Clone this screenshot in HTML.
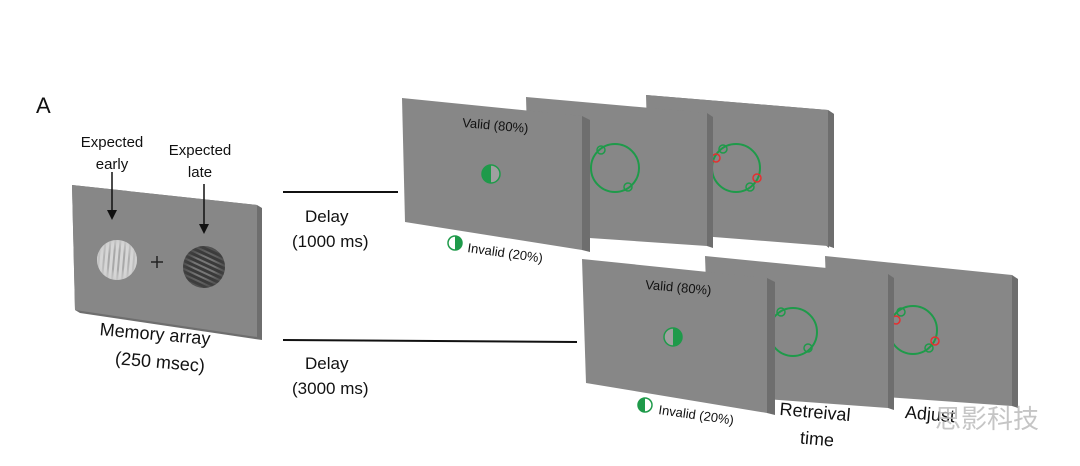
<!DOCTYPE html>
<html><head><meta charset="utf-8"><style>
body{margin:0;background:#fff;}
svg{display:block;}
text{font-family:"Liberation Sans","Noto Sans CJK SC",sans-serif;fill:#111;}
</style></head><body>
<svg width="1080" height="466" viewBox="0 0 1080 466" xmlns="http://www.w3.org/2000/svg">
<defs>
<pattern id="g1" width="5" height="40" patternUnits="userSpaceOnUse" patternTransform="rotate(5)">
<rect width="5" height="40" fill="#d6d6d6"/><rect width="2" height="40" fill="#a8a8a8"/></pattern>
<pattern id="g2" width="40" height="5" patternUnits="userSpaceOnUse" patternTransform="rotate(25)">
<rect width="40" height="5" fill="#3a3a3a"/><rect width="40" height="2" fill="#777"/></pattern>
<radialGradient id="f1"><stop offset="0.5" stop-color="#ddd" stop-opacity="0"/><stop offset="1" stop-color="#ccc" stop-opacity="0.8"/></radialGradient>
<radialGradient id="f2"><stop offset="0.5" stop-color="#333" stop-opacity="0"/><stop offset="1" stop-color="#444" stop-opacity="0.8"/></radialGradient>
</defs>
<text x="36" y="113" font-size="22">A</text>

<!-- memory array -->
<polygon points="72,185 257,205 262,208 262,340 80,313 75,310" fill="#6e6e6e"/>
<polygon points="72,185 257,205 257,337 75,310" fill="#878787"/>
<circle cx="117" cy="260" r="20" fill="url(#g1)"/><circle cx="117" cy="260" r="20" fill="url(#f1)"/>
<circle cx="204" cy="267" r="21" fill="url(#g2)"/><circle cx="204" cy="267" r="21" fill="url(#f2)"/>
<path d="M151 262h12M157 256v12" stroke="#222" stroke-width="1.5"/>
<text x="112" y="147" font-size="15" text-anchor="middle">Expected</text>
<text x="112" y="169" font-size="15" text-anchor="middle">early</text>
<text x="200" y="155" font-size="15" text-anchor="middle">Expected</text>
<text x="200" y="177" font-size="15" text-anchor="middle">late</text>
<path d="M112 172v40M204 184v42" stroke="#111" stroke-width="1.5"/>
<polygon points="107,210 117,210 112,220" fill="#111"/>
<polygon points="199,224 209,224 204,234" fill="#111"/>
<text x="155" y="340" font-size="18" text-anchor="middle" transform="rotate(5 155 335)">Memory array</text>
<text x="160" y="368" font-size="18" text-anchor="middle" transform="rotate(5 160 362)">(250 msec)</text>

<!-- lines -->
<line x1="283" y1="192" x2="398" y2="192" stroke="#111" stroke-width="2"/>
<line x1="283" y1="340" x2="577" y2="342" stroke="#111" stroke-width="2"/>
<text x="305" y="222" font-size="17">Delay</text>
<text x="292" y="247" font-size="17">(1000 ms)</text>
<text x="305" y="369" font-size="17">Delay</text>
<text x="292" y="394" font-size="17">(3000 ms)</text>

<!-- top row panels: back to front -->
<g>
<polygon points="646,95 828,110 834,114 834,248 829,246 829,248" fill="#6e6e6e"/>
<polygon points="828,110 834,114 834,248 828,246" fill="#6e6e6e"/>
<polygon points="646,95 828,110 828,246 650,232" fill="#878787"/>
<circle cx="736" cy="168" r="24" fill="none" stroke="#1f9a4a" stroke-width="2"/>
<circle cx="723" cy="149" r="4" fill="none" stroke="#1f9a4a" stroke-width="1.5"/>
<circle cx="750" cy="187" r="4" fill="none" stroke="#1f9a4a" stroke-width="1.5"/>
<circle cx="716" cy="158" r="4" fill="none" stroke="#e53030" stroke-width="1.5"/>
<circle cx="757" cy="178" r="4" fill="none" stroke="#e53030" stroke-width="1.5"/>
</g>
<g>
<polygon points="707,113 713,117 713,248 707,246" fill="#6e6e6e"/>
<polygon points="526,97 707,113 707,246 530,234" fill="#878787"/>
<circle cx="615" cy="168" r="24" fill="none" stroke="#1f9a4a" stroke-width="2"/>
<circle cx="601" cy="150" r="4" fill="none" stroke="#1f9a4a" stroke-width="1.5"/>
<circle cx="628" cy="187" r="4" fill="none" stroke="#1f9a4a" stroke-width="1.5"/>
</g>
<g>
<polygon points="582,116 590,120 590,252 582,250" fill="#6e6e6e"/>
<polygon points="402,98 582,116 582,250 405,222" fill="#878787"/>
<text x="462" y="127" font-size="13" transform="rotate(5 462 127)">Valid (80%)</text>
<circle cx="491" cy="174" r="9" fill="#a0a0a0" stroke="#1f9a4a" stroke-width="1.5"/>
<path d="M491 165a9 9 0 0 0 0 18z" fill="#1f9a4a"/>
</g>
<circle cx="455" cy="243" r="7" fill="#fff" stroke="#1f9a4a" stroke-width="1.5"/>
<path d="M455 236a7 7 0 0 1 0 14z" fill="#1f9a4a"/>
<text x="467" y="252" font-size="13" transform="rotate(8 467 252)">Invalid (20%)</text>

<!-- bottom row panels -->
<g>
<polygon points="1012,275 1018,279 1018,408 1012,406" fill="#6e6e6e"/>
<polygon points="825,256 1012,275 1012,406 830,393" fill="#878787"/>
<circle cx="913" cy="330" r="24" fill="none" stroke="#1f9a4a" stroke-width="2"/>
<circle cx="901" cy="312" r="4" fill="none" stroke="#1f9a4a" stroke-width="1.5"/>
<circle cx="929" cy="348" r="4" fill="none" stroke="#1f9a4a" stroke-width="1.5"/>
<circle cx="896" cy="320" r="4" fill="none" stroke="#e53030" stroke-width="1.5"/>
<circle cx="935" cy="341" r="4" fill="none" stroke="#e53030" stroke-width="1.5"/>
</g>
<g>
<polygon points="888,274 894,278 894,410 888,408" fill="#6e6e6e"/>
<polygon points="705,256 888,274 888,408 710,395" fill="#878787"/>
<circle cx="793" cy="332" r="24" fill="none" stroke="#1f9a4a" stroke-width="2"/>
<circle cx="781" cy="312" r="4" fill="none" stroke="#1f9a4a" stroke-width="1.5"/>
<circle cx="808" cy="348" r="4" fill="none" stroke="#1f9a4a" stroke-width="1.5"/>
</g>
<g>
<polygon points="767,278 775,282 775,415 767,413" fill="#6e6e6e"/>
<polygon points="582,259 767,278 767,413 586,383" fill="#878787"/>
<text x="645" y="289" font-size="13" transform="rotate(5 645 289)">Valid (80%)</text>
<circle cx="673" cy="337" r="9" fill="#a0a0a0" stroke="#1f9a4a" stroke-width="1.5"/>
<path d="M673 328a9 9 0 0 1 0 18z" fill="#1f9a4a"/>
</g>
<circle cx="645" cy="405" r="7" fill="#fff" stroke="#1f9a4a" stroke-width="1.5"/>
<path d="M645 398a7 7 0 0 0 0 14z" fill="#1f9a4a"/>
<text x="658" y="414" font-size="13" transform="rotate(8 658 414)">Invalid (20%)</text>
<text x="815" y="418" font-size="18" text-anchor="middle" transform="rotate(5 815 413)">Retreival</text>
<text x="817" y="445" font-size="18" text-anchor="middle" transform="rotate(5 817 440)">time</text>
<text x="905" y="418" font-size="18" transform="rotate(5 905 413)">Adjust</text>
<text x="935" y="428" font-size="26" fill="#aaa" style="fill:#bbb;opacity:.85">思影科技</text>
</svg>
</body></html>
